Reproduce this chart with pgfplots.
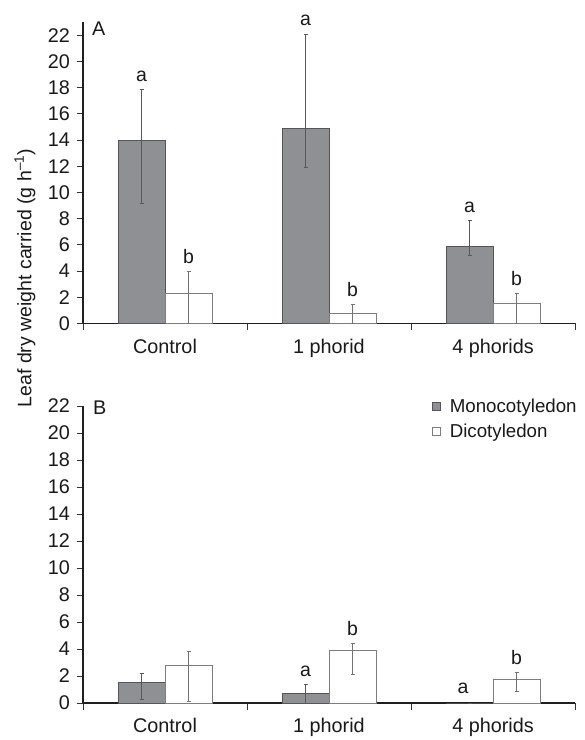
\documentclass[border=0pt]{standalone}
\usepackage{pgfplots}
\pgfplotsset{compat=1.18}
\usepackage{pgfplotstable}
\usepackage{fontspec}
\setmainfont{Liberation Sans}
\definecolor{barg}{RGB}{143,144,148}
\definecolor{edgeg}{RGB}{85,85,88}
\definecolor{edgew}{RGB}{125,125,128}
\definecolor{txt}{RGB}{25,25,25}

\pgfplotstableread{
x y ep em
0 14.0 3.9 4.8
1 14.9 7.2 3.0
2 5.9 1.95 0.7
}\Amono
\pgfplotstableread{
x y ep em
0 2.3 1.65 2.3
1 0.76 0.7 0.76
2 1.53 0.76 1.53
}\Adico
\pgfplotstableread{
x y ep em
0 1.55 0.65 1.25
1 0.74 0.66 0.74
2 0 0 0
}\Bmono
\pgfplotstableread{
x y ep em
0 2.78 1.03 2.66
1 3.89 0.49 1.8
2 1.72 0.57 0.86
}\Bdico

\tikzset{
  lett/.style={anchor=base, inner sep=0pt, yshift=8pt, font=\fontsize{19.5}{23}\selectfont, text=txt},
}
\pgfplotsset{
  panel/.style={
    scale only axis, width=492pt,
    xmin=-0.5, xmax=2.5, ymin=0,
    axis x line=bottom, axis y line=left,
    axis line style={-, line width=1.3pt, color=black!88},
    xtick={0,1,2}, xticklabels={Control,1 phorid,4 phorids},
    major x tick style={draw=none},
    minor xtick={-0.5,0.5,1.5,2.5},
    minor x tick style={line width=0.9pt, color=black!80},
    minor tick length=7pt,
    ytick={0,2,...,22},
    major y tick style={line width=0.9pt, color=black!80},
    major tick length=6pt,
    tick align=outside,
    /pgf/number format/assume math mode=true,
    tick label style={font=\fontsize{19.8}{23}\selectfont, text=txt},
    yticklabel style={inner sep=0pt, xshift=-7pt},
    xticklabel style={inner sep=0pt, yshift=-9pt, anchor=north},
    ybar=0pt, bar width=47pt,
    clip=false,
    error bars/y dir=both, error bars/y explicit,
  },
  mono/.style={fill=barg, draw=edgeg, line width=0.8pt,
    error bars/error bar style={line width=0.9pt, color=black!65},
    error bars/error mark options={rotate=90, mark size=2pt, line width=0.9pt, color=black!65}},
  dico/.style={fill=white, draw=edgew, line width=0.8pt,
    error bars/error bar style={line width=0.9pt, color=black!55},
    error bars/error mark options={rotate=90, mark size=2pt, line width=0.9pt, color=black!55}},
}

\begin{document}
\begin{tikzpicture}
\useasboundingbox (0pt,0pt) rectangle (585pt,740pt);

% Panel A
\begin{axis}[panel, at={(83pt,416.5pt)}, anchor=south west, height=301.3pt, ymax=23]
\addplot[mono] table[x=x,y=y,y error plus=ep,y error minus=em]{\Amono};
\addplot[dico] table[x=x,y=y,y error plus=ep,y error minus=em]{\Adico};
\node[lett] at ([xshift=-23.5pt]axis cs:0,17.9) {a};
\node[lett] at ([xshift=23.5pt]axis cs:0,3.95) {b};
\node[lett] at ([xshift=-23.5pt]axis cs:1,22.1) {a};
\node[lett] at ([xshift=23.5pt]axis cs:1,1.46) {b};
\node[lett] at ([xshift=-23.5pt]axis cs:2,7.85) {a};
\node[lett] at ([xshift=23.5pt]axis cs:2,2.29) {b};
\node[anchor=base west, inner sep=0pt, font=\fontsize{19.8}{23}\selectfont, text=txt] at (rel axis cs:0.018,0.955) {A};
\end{axis}

% Panel B
\begin{axis}[panel, at={(83pt,37pt)}, anchor=south west, height=297pt, ymax=22,
  legend style={at={(0.709,1.03)}, anchor=north west, draw=none, fill=none,
    inner sep=0pt, font=\fontsize{18.7}{22}\selectfont, text=txt,
    row sep=6pt, /tikz/every odd column/.append style={column sep=7pt}},
  legend cell align=left]
\addplot[mono, legend image code/.code={\draw[fill=barg,draw=edgeg,line width=0.8pt] (0pt,-4pt) rectangle (8pt,4pt);}] table[x=x,y=y,y error plus=ep,y error minus=em]{\Bmono};
\addlegendentry{Monocotyledon}
\addplot[dico, legend image code/.code={\draw[fill=white,draw=edgew,line width=0.8pt] (0pt,-4pt) rectangle (8pt,4pt);}] table[x=x,y=y,y error plus=ep,y error minus=em]{\Bdico};
\addlegendentry{Dicotyledon}
\node[lett] at ([xshift=-23.5pt]axis cs:1,1.4) {a};
\node[lett] at ([xshift=23.5pt]axis cs:1,4.38) {b};
\node[lett, yshift=2pt] at ([xshift=-30pt]axis cs:2,0) {a};
\node[lett] at ([xshift=23.5pt]axis cs:2,2.29) {b};
\node[anchor=base west, inner sep=0pt, font=\fontsize{19.8}{23}\selectfont, text=txt] at (rel axis cs:0.02,0.97) {B};
\end{axis}

\node[rotate=90, font=\fontsize{19.5}{23}\selectfont, text=txt] at (25pt,462pt) {Leaf dry weight carried (g h\textsuperscript{–1})};
\end{tikzpicture}
\end{document}
